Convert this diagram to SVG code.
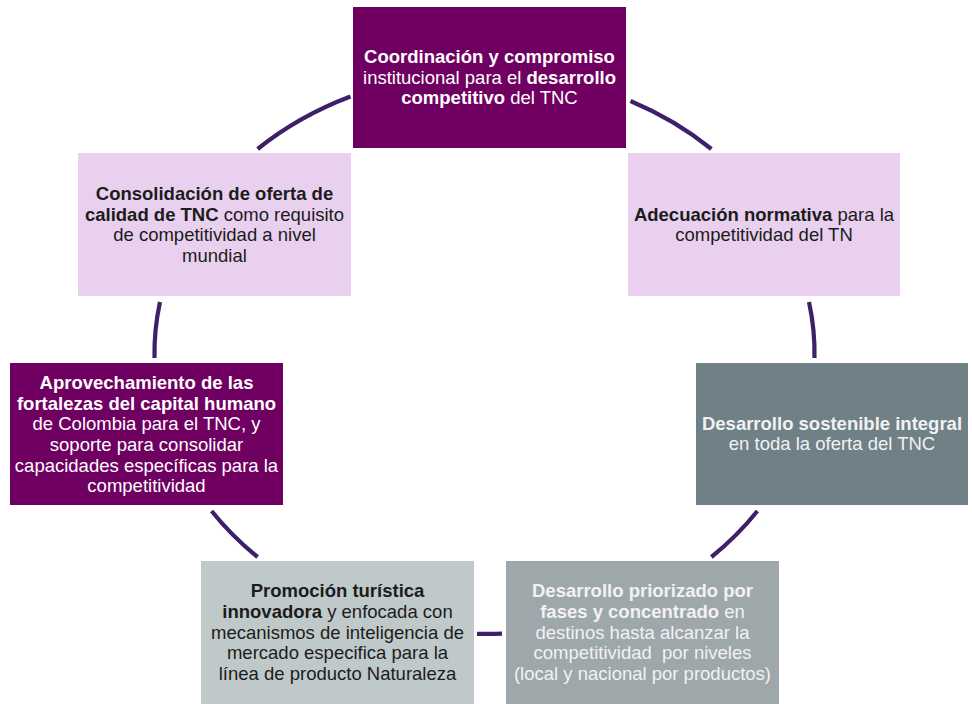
<svg xmlns="http://www.w3.org/2000/svg" width="972" height="704" viewBox="0 0 972 704">
<style>
  .arc{fill:none;stroke:#3e1f6a;stroke-width:4.2;stroke-linecap:butt}
  text{font-family:"Liberation Sans",Arial,sans-serif;font-size:18.5px;text-anchor:middle}
  .b{font-weight:bold}
  .w{fill:#ffffff}
  .wg{fill:#f2f2f2}
  .d{fill:#1c1c1c}
  .purple{fill:#6f0061}
  .lav{fill:#e8d0ee}
  .slate{fill:#6f8086}
  .lgrey{fill:#c0c9c9}
  .mgrey{fill:#9ea7aa}
</style>
<rect width="972" height="704" fill="#ffffff"/>
<g id="connectors">
  <path class="arc" d="M 257.6 149 A 330 281 0 0 1 350.5 96.5"/>
  <path class="arc" d="M 630.5 101 A 330 281 0 0 1 711.4 149"/>
  <path class="arc" d="M 809 302 A 330 281 0 0 1 814.5 358"/>
  <path class="arc" d="M 757.4 511 A 330 281 0 0 1 711.4 557"/>
  <path class="arc" d="M 502 633.6 A 330 281 0 0 1 477 633.8"/>
  <path class="arc" d="M 257.6 557 A 330 281 0 0 1 211.6 511"/>
  <path class="arc" d="M 154.5 358 A 330 281 0 0 1 160 302"/>
</g>
<g id="node-coordinacion">
  <rect class="purple" x="353" y="7" width="273" height="141"/>
  <text class="w" x="489.5" y="62.8"><tspan class="b">Coordinación y compromiso</tspan></text>
  <text class="w" x="489.5" y="83.5">institucional para el <tspan class="b">desarrollo</tspan></text>
  <text class="w" x="489.5" y="104.2"><tspan class="b">competitivo</tspan> del TNC</text>
</g>
<g id="node-consolidacion">
  <rect class="lav" x="78" y="153" width="273" height="143"/>
  <text class="d" x="214.5" y="199.8"><tspan class="b">Consolidación de oferta de</tspan></text>
  <text class="d" x="214.5" y="220.5"><tspan class="b">calidad de TNC</tspan> como requisito</text>
  <text class="d" x="214.5" y="241.2">de competitividad a nivel</text>
  <text class="d" x="214.5" y="261.9">mundial</text>
</g>
<g id="node-adecuacion">
  <rect class="lav" x="628" y="153" width="272" height="143"/>
  <text class="d" x="764" y="220.5"><tspan class="b">Adecuación normativa</tspan> para la</text>
  <text class="d" x="764" y="241.2">competitividad del TN</text>
</g>
<g id="node-aprovechamiento">
  <rect class="purple" x="10" y="363" width="273" height="142"/>
  <text class="w" x="146.5" y="388.8"><tspan class="b">Aprovechamiento de las</tspan></text>
  <text class="w" x="146.5" y="409.5"><tspan class="b">fortalezas del capital humano</tspan></text>
  <text class="w" x="146.5" y="430.2">de Colombia para el TNC, y</text>
  <text class="w" x="146.5" y="450.9">soporte para consolidar</text>
  <text class="w" x="146.5" y="471.6">capacidades específicas para la</text>
  <text class="w" x="146.5" y="492.3">competitividad</text>
</g>
<g id="node-sostenible">
  <rect class="slate" x="696" y="363" width="272" height="142"/>
  <text class="wg" x="832" y="429.6"><tspan class="b">Desarrollo sostenible integral</tspan></text>
  <text class="wg" x="832" y="450.3">en toda la oferta del TNC</text>
</g>
<g id="node-promocion">
  <rect class="lgrey" x="201" y="561" width="273" height="143"/>
  <text class="d" x="337.5" y="597.1"><tspan class="b">Promoción turística</tspan></text>
  <text class="d" x="337.5" y="617.8"><tspan class="b">innovadora</tspan> y enfocada con</text>
  <text class="d" x="337.5" y="638.5">mecanismos de inteligencia de</text>
  <text class="d" x="337.5" y="659.2">mercado especifica para la</text>
  <text class="d" x="337.5" y="679.9">línea de producto Naturaleza</text>
</g>
<g id="node-priorizado">
  <rect class="mgrey" x="506" y="561" width="273" height="143"/>
  <text class="wg" x="642.5" y="597.1"><tspan class="b">Desarrollo priorizado por</tspan></text>
  <text class="wg" x="642.5" y="617.8"><tspan class="b">fases y concentrado</tspan> en</text>
  <text class="wg" x="642.5" y="638.5">destinos hasta alcanzar la</text>
  <text class="wg" x="642.5" y="659.2" xml:space="preserve">competitividad  por niveles</text>
  <text class="wg" x="642.5" y="679.9">(local y nacional por productos)</text>
</g>
</svg>
